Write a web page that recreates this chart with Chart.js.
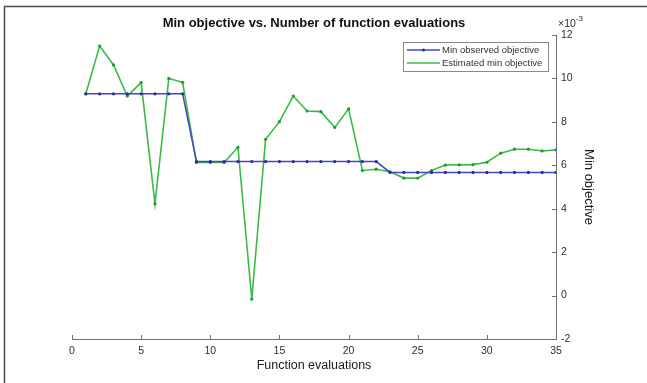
<!DOCTYPE html>
<html>
<head>
<meta charset="utf-8">
<script src="https://cdn.jsdelivr.net/npm/chart.js@4/dist/chart.umd.min.js"></script>
<style>
  html, body { margin: 0; padding: 0; background: #fff; }
  canvas { display: block; }
</style>
</head>
<body>
<canvas id="chart" width="647" height="383"></canvas>
<script>
// function evaluation index
var evals = [1, 2, 3, 4, 5, 6, 7, 8, 9, 10, 11, 12, 13, 14, 15, 16, 17, 18,
  19, 20, 21, 22, 23, 24, 25, 26, 27, 28, 29, 30, 31, 32, 33, 34, 35];

// objective values, in units of 1e-3
var minObserved = [9.29, 9.29, 9.29, 9.29, 9.29, 9.29, 9.29, 9.29,
  6.17, 6.17, 6.17, 6.17, 6.17, 6.17, 6.17, 6.17, 6.17, 6.17, 6.17, 6.17, 6.17, 6.17,
  5.67, 5.67, 5.67, 5.67, 5.67, 5.67, 5.67, 5.67, 5.67, 5.67, 5.67, 5.67, 5.67];
var estimatedMin = [9.29, 11.49, 10.62, 9.19, 9.81, 4.23, 10.0, 9.82,
  6.13, 6.13, 6.13, 6.83, -0.16, 7.20, 8.01, 9.19, 8.50, 8.47, 7.74, 8.60, 5.76, 5.82,
  5.70, 5.41, 5.41, 5.76, 6.01, 6.02, 6.03, 6.14, 6.56, 6.74, 6.74, 6.66, 6.71];

var seriesNames = ['Min observed objective', 'Estimated min objective'];
var xTicks = [0, 5, 10, 15, 20, 25, 30, 35];
var yTicks = [-2, 0, 2, 4, 6, 8, 10, 12];

var FONT = "'Liberation Sans', Arial, sans-serif";
var AXIS = '#707070';
var TICK_TEXT = '#2e2e2e';
var BLUE = '#4646c4';
var GREEN = '#3cba48';

function toPoints(ys) {
  return evals.map(function (x, i) { return { x: x, y: ys[i] }; });
}

// draws the outer frame, inward ticks, exponent and legend
var extras = {
  id: 'extras',
  beforeDraw: function (chart) {
    var ctx = chart.ctx;
    ctx.save();
    ctx.fillStyle = '#fff';
    ctx.fillRect(0, 0, chart.width, chart.height);
    ctx.strokeStyle = '#4a4a4a';
    ctx.lineWidth = 1.5;
    ctx.beginPath();
    ctx.moveTo(4.5, chart.height);
    ctx.lineTo(4.5, 6.5);
    ctx.lineTo(chart.width, 6.5);
    ctx.stroke();
    ctx.restore();
  },
  afterDraw: function (chart) {
    var ctx = chart.ctx;
    var xs = chart.scales.x, ys = chart.scales.y, area = chart.chartArea;
    ctx.save();
    ctx.strokeStyle = AXIS;
    ctx.lineWidth = 1;
    ctx.beginPath();
    xTicks.forEach(function (v) {
      var px = Math.round(xs.getPixelForValue(v)) + 0.5;
      ctx.moveTo(px, area.bottom);
      ctx.lineTo(px, area.bottom - 4);
    });
    yTicks.forEach(function (v) {
      var py = Math.round(ys.getPixelForValue(v)) + 0.5;
      ctx.moveTo(area.right, py);
      ctx.lineTo(area.right - 4, py);
    });
    ctx.stroke();

    // exponent label
    ctx.fillStyle = TICK_TEXT;
    ctx.textBaseline = 'middle';
    ctx.textAlign = 'left';
    ctx.font = '10.5px ' + FONT;
    ctx.fillText('\u00d710', area.right + 2, 24);
    var w = ctx.measureText('\u00d710').width;
    ctx.font = '8px ' + FONT;
    ctx.fillText('-3', area.right + 2 + w, 19);

    // legend
    var lx = 403, ly = 42, lw = 145, lh = 29;
    ctx.fillStyle = '#fff';
    ctx.fillRect(lx, ly, lw, lh);
    ctx.strokeStyle = '#8a8a8a';
    ctx.strokeRect(lx + 0.5, ly + 0.5, lw, lh);
    ctx.font = '9.5px ' + FONT;
    chart.data.datasets.forEach(function (ds, i) {
      var cy = ly + 8 + i * 13;
      ctx.strokeStyle = ds.borderColor;
      ctx.lineWidth = 1.5;
      ctx.beginPath();
      ctx.moveTo(lx + 4, cy);
      ctx.lineTo(lx + 37, cy);
      ctx.stroke();
      if (i === 0) {
        ctx.fillStyle = ds.pointBackgroundColor;
        ctx.beginPath();
        ctx.arc(lx + 20.5, cy, 1.5, 0, Math.PI * 2);
        ctx.fill();
      }
      ctx.fillStyle = '#303030';
      ctx.fillText(ds.label, lx + 39, cy);
    });
    ctx.restore();
  }
};

new Chart(document.getElementById('chart'), {
  type: 'line',
  data: {
    datasets: [{
      label: seriesNames[0],
      data: toPoints(minObserved),
      borderColor: BLUE,
      borderWidth: 1.5,
      pointRadius: 1.6,
      pointBackgroundColor: '#2a2aa0',
      pointBorderWidth: 0,
      tension: 0
    }, {
      label: seriesNames[1],
      data: toPoints(estimatedMin),
      borderColor: GREEN,
      borderWidth: 1.6,
      pointRadius: 1.6,
      pointBackgroundColor: '#1f9a30',
      pointBorderWidth: 0,
      tension: 0
    }]
  },
  options: {
    responsive: false,
    animation: false,
    events: [],
    layout: { padding: { left: 72, top: 0, right: 0, bottom: 0 } },
    plugins: {
      legend: { display: false },
      tooltip: { enabled: false },
      title: {
        display: true,
        fullSize: false,
        text: 'Min objective vs. Number of function evaluations',
        color: '#111',
        font: { family: FONT, size: 13, weight: 'bold' },
        padding: { top: 15.5, bottom: 3.9 }
      }
    },
    scales: {
      x: {
        type: 'linear',
        position: 'bottom',
        min: 0,
        max: 35,
        afterBuildTicks: function (s) { s.ticks = xTicks.map(function (v) { return { value: v }; }); },
        afterFit: function (s) { s.height = 44; },
        grid: { display: false, drawTicks: false },
        border: { display: true, color: AXIS, width: 1 },
        ticks: { color: TICK_TEXT, padding: 6, font: { family: FONT, size: 10.5 } },
        title: {
          display: true,
          text: 'Function evaluations',
          color: '#1a1a1a',
          font: { family: FONT, size: 12.5 },
          padding: { top: 4, bottom: 9.5 }
        }
      },
      y: {
        type: 'linear',
        position: 'right',
        min: -2,
        max: 12,
        afterBuildTicks: function (s) { s.ticks = yTicks.map(function (v) { return { value: v }; }); },
        afterFit: function (s) { s.width = 91; },
        grid: { display: false, drawTicks: false },
        border: { display: true, color: AXIS, width: 1 },
        ticks: { color: TICK_TEXT, padding: 5, font: { family: FONT, size: 10.5 } },
        title: {
          display: true,
          text: 'Min objective',
          color: '#1a1a1a',
          font: { family: FONT, size: 13 },
          padding: { top: 51, bottom: 0 }
        }
      }
    }
  },
  plugins: [extras]
});
</script>
</body>
</html>
